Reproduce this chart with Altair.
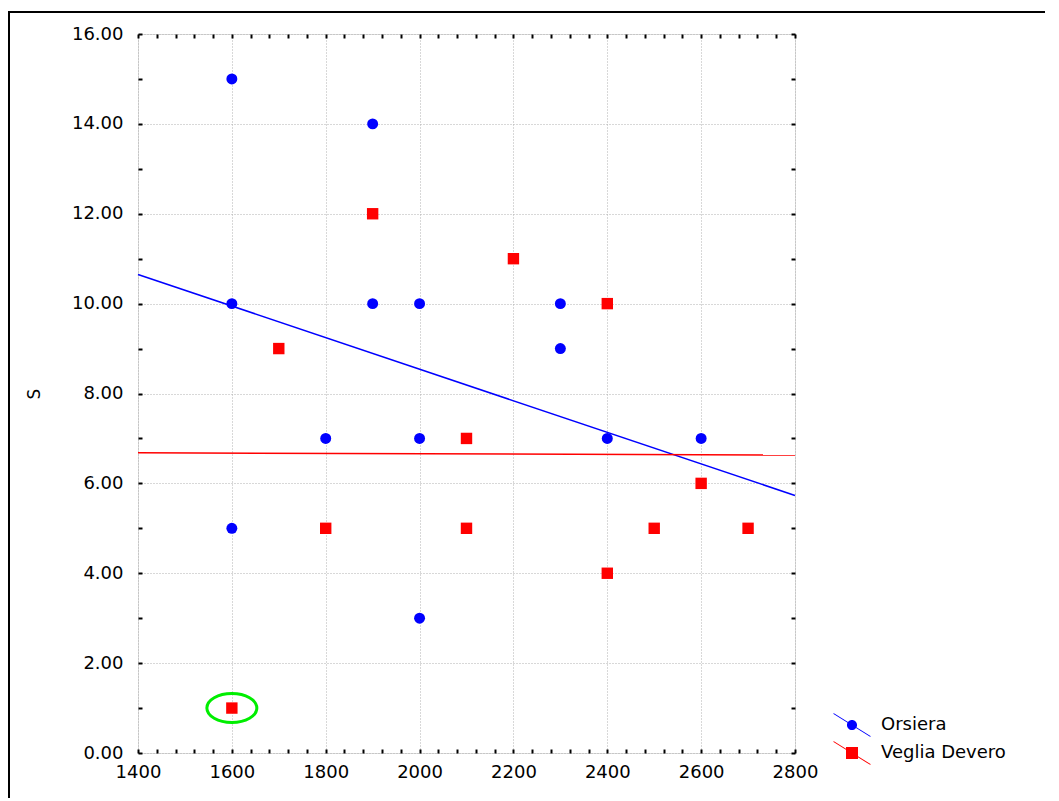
import altair as alt
import pandas as pd

# ---- data ----
orsiera_x = [1600, 1600, 1600, 1800, 1900, 1900, 2000, 2000, 2000, 2300, 2300, 2400, 2600]
orsiera_y = [15, 10, 5, 7, 14, 10, 10, 7, 3, 10, 9, 7, 7]
veglia_x = [1600, 1700, 1800, 1900, 2100, 2100, 2200, 2400, 2400, 2500, 2600, 2700]
veglia_y = [1, 9, 5, 12, 7, 5, 11, 10, 4, 5, 6, 5]

fit_x = [1400, 2800]
orsiera_fit = [10.65, 5.73]
veglia_fit = [6.68, 6.63]

highlight_x = [1600]
highlight_y = [1]

series = ["Orsiera", "Veglia Devero"]
colors = ["#0000FF", "#FF0000"]

x_labels = list(range(1400, 2801, 200))
x_minor = list(range(1400, 2801, 40))
y_labels = list(range(0, 17, 2))
y_minor = list(range(0, 17, 1))

W, H = 657, 719
FONT = "DejaVu Sans"

pts = pd.DataFrame({
    "x": orsiera_x + veglia_x,
    "S": orsiera_y + veglia_y,
    "series": [series[0]] * len(orsiera_x) + [series[1]] * len(veglia_x),
})
fits = pd.DataFrame({
    "x": fit_x * 2,
    "S": orsiera_fit + veglia_fit,
    "series": [series[0]] * 2 + [series[1]] * 2,
})
hl = pd.DataFrame({"x": highlight_x, "S": highlight_y})

xs = alt.Scale(domain=[1400, 2800], nice=False, zero=False)
ys = alt.Scale(domain=[0, 16], nice=False, zero=False)

# main layer: labels + dotted grid
main_x = alt.Axis(values=x_labels, format="d", grid=True, gridDash=[1, 2], gridColor="#b0b0b0",
                  ticks=False, domain=False, labelFontSize=18, labelFont=FONT, labelColor="black",
                  labelPadding=10, title=None, labelFlush=False)
main_y = alt.Axis(values=y_labels, format=".2f", grid=True, gridDash=[1, 2], gridColor="#b0b0b0",
                  ticks=False, domain=False, labelFontSize=18, labelFont=FONT, labelColor="black",
                  labelPadding=15, title="S", titleFont=FONT, titleFontSize=17, titleFontWeight="normal",
                  titleColor="black", titlePadding=28, labelFlush=False)

blue = alt.Chart(pts).transform_filter(alt.datum.series == series[0]).mark_circle(
    color=colors[0], size=120, opacity=1).encode(
    x=alt.X("x:Q", scale=xs, axis=main_x),
    y=alt.Y("S:Q", scale=ys, axis=main_y),
)
red = alt.Chart(pts).transform_filter(alt.datum.series == series[1]).mark_square(
    color=colors[1], size=130, opacity=1).encode(
    x=alt.X("x:Q", scale=xs, axis=None),
    y=alt.Y("S:Q", scale=ys, axis=None),
)
line_b = alt.Chart(fits).transform_filter(alt.datum.series == series[0]).mark_line(
    color=colors[0], strokeWidth=1.5).encode(
    x=alt.X("x:Q", scale=xs, axis=None), y=alt.Y("S:Q", scale=ys, axis=None))
line_r = alt.Chart(fits).transform_filter(alt.datum.series == series[1]).mark_line(
    color=colors[1], strokeWidth=1.5).encode(
    x=alt.X("x:Q", scale=xs, axis=None), y=alt.Y("S:Q", scale=ys, axis=None))

ellipse_path = "M-1,0A1,0.58 0 1,1 1,0A1,0.58 0 1,1 -1,0Z"
ring = alt.Chart(hl).mark_point(shape=ellipse_path, size=2500, filled=False,
                                color="#00EE00", strokeWidth=3, opacity=1).encode(
    x=alt.X("x:Q", scale=xs, axis=None), y=alt.Y("S:Q", scale=ys, axis=None))

# inward tick axes (axes moved to the opposite edge so ticks point into the plot)
tick_common = dict(labels=False, grid=False, domain=False, ticks=True, tickSize=4,
                   tickWidth=2, tickColor="black", title=None)
ticks_a = alt.Chart(pts).mark_point(opacity=0).encode(
    x=alt.X("x:Q", scale=xs, axis=alt.Axis(orient="top", offset=-H, values=x_minor, **tick_common)),
    y=alt.Y("S:Q", scale=ys, axis=alt.Axis(orient="right", offset=-W, values=y_minor, **tick_common)),
)
ticks_b = alt.Chart(pts).mark_point(opacity=0).encode(
    x=alt.X("x:Q", scale=xs, axis=alt.Axis(orient="bottom", offset=-H, values=x_minor, **tick_common)),
    y=alt.Y("S:Q", scale=ys, axis=alt.Axis(orient="left", offset=-W, values=y_minor, **tick_common)),
)

# legend carrier (symbols: line + marker)
circle_sym = ("M-1.54,-1.01L1.54,0.91L1.54,1.01L-1.54,-0.91Z"
              "M0.42,0A0.42,0.42 0 1,1 -0.42,0A0.42,0.42 0 1,1 0.42,0Z")
square_sym = ("M-1.54,-1.01L1.54,0.91L1.54,1.01L-1.54,-0.91Z"
              "M-0.5,-0.5L0.5,-0.5L0.5,0.5L-0.5,0.5Z")
leg = dict(title=None, orient="none", legendX=W + 45, legendY=H - 40,
           labelFontSize=18, labelFont=FONT, labelColor="black",
           symbolSize=576, labelOffset=17, rowPadding=2,
           symbolStrokeWidth=0, symbolOpacity=1)
legend = alt.Chart(pts).transform_filter("false").mark_point(filled=True, opacity=1).encode(
    x=alt.X("x:Q", scale=xs, axis=None),
    y=alt.Y("S:Q", scale=ys, axis=None),
    color=alt.Color("series:N", scale=alt.Scale(domain=series, range=colors),
                    legend=alt.Legend(**leg)),
    shape=alt.Shape("series:N", scale=alt.Scale(domain=series, range=[circle_sym, square_sym]),
                    legend=alt.Legend(**leg)),
)

# outer frame of the figure
frame = alt.Chart(hl).mark_rect(fill=None, stroke="black", strokeWidth=2, clip=False).encode(
    x=alt.value(-129), x2=alt.value(W + 400), y=alt.value(-22), y2=alt.value(H + 200))

chart = alt.layer(frame, line_b, line_r, ring, blue, red, ticks_a, ticks_b, legend).resolve_axis(
    x="independent", y="independent"
).properties(
    width=W, height=H,
    autosize=alt.AutoSizeParams(type="none"),
    padding={"left": 130, "top": 26, "right": 250, "bottom": 45},
).configure_view(stroke="black", strokeWidth=2).configure(background="white")

chart.save("out.html", embed_options={"renderer": "svg", "actions": False})
